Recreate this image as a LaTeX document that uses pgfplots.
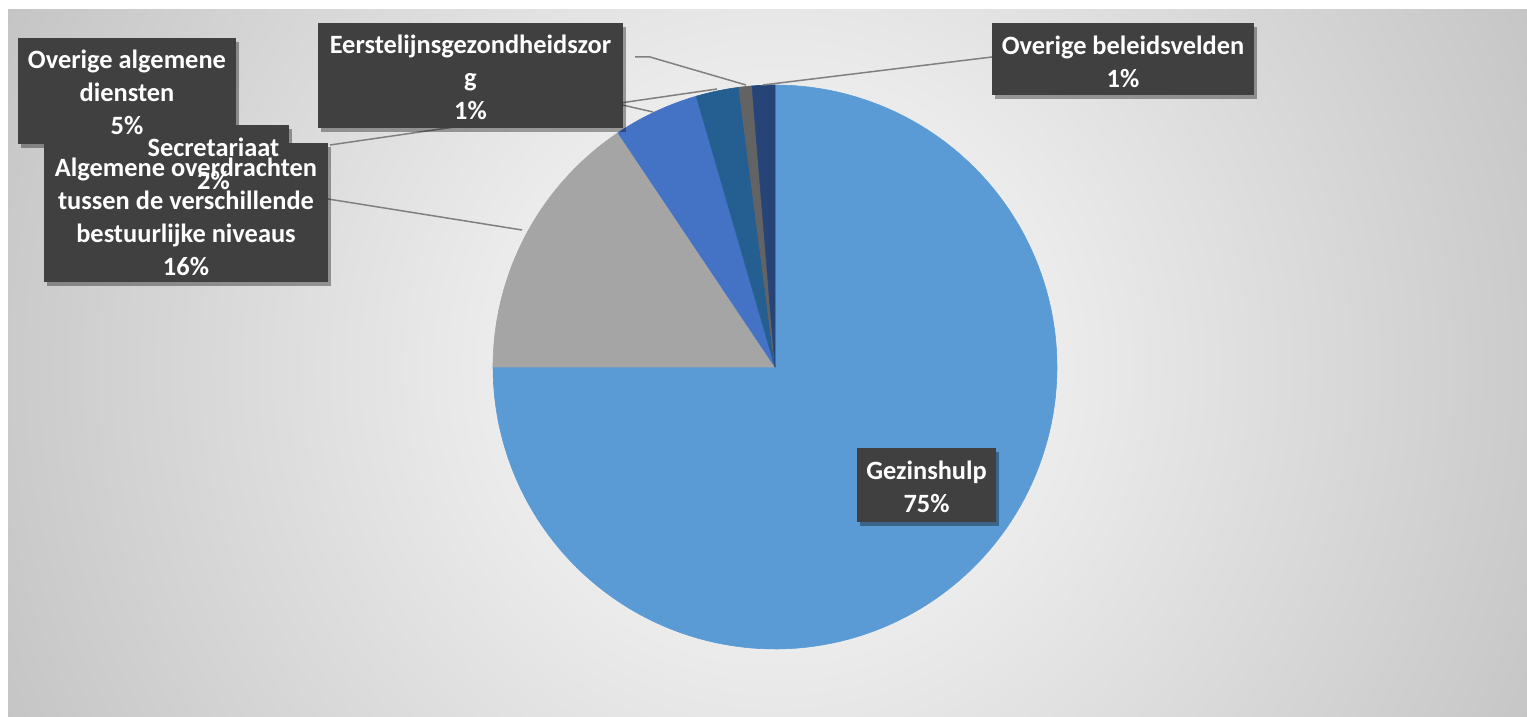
\documentclass[border=0pt]{standalone}
\usepackage{pgfplots}
\pgfplotsset{compat=1.18}
\usepackage{pgfplotstable}
\usepackage{fontspec}
\setmainfont{Carlito}
\usetikzlibrary{shadows}

\definecolor{s0}{HTML}{5B9BD5}
\definecolor{s1}{HTML}{A5A5A5}
\definecolor{s2}{HTML}{4472C4}
\definecolor{s3}{HTML}{255E91}
\definecolor{s4}{HTML}{636363}
\definecolor{s5}{HTML}{264478}
\definecolor{bggray}{HTML}{C4C4C4}
\definecolor{boxgray}{HTML}{404040}
\definecolor{leader}{HTML}{808080}

% share of each slice (percent), clockwise from 12 o'clock
\pgfplotstableread{
pct
75.0
15.6
4.9
2.45
0.75
1.3
}\piedata

\begin{document}
\begin{tikzpicture}[
  box/.style={fill=boxgray, draw=none, inner sep=0pt,
    drop shadow={shadow xshift=1.3pt, shadow yshift=-1.8pt, opacity=0.35, fill=black}},
  lbl/.style={text=white, font=\bfseries\fontsize{13.2}{16.5}\selectfont, align=center, inner sep=0pt}
]
% background
\fill[white] (0,0) rectangle (763.5pt,358.5pt);
\begin{scope}
  \clip (4pt,0pt) rectangle (763.5pt,353.5pt);
  \fill[bggray] (4pt,0pt) rectangle (763.5pt,353.5pt);
  \shade[inner color=white, outer color=bggray] (387.5pt,175pt) circle (430pt);
\end{scope}

\begin{axis}[
  at={(0,0)}, anchor=origin,
  width=763.5pt, height=358.5pt, scale only axis,
  xmin=0, xmax=1527, ymin=0, ymax=717,
  hide axis, clip=false,
]
\def\cum{0}
\pgfplotsforeachungrouped \i in {0,...,5}{%
  \pgfplotstablegetelem{\i}{pct}\of\piedata
  \let\p=\pgfplotsretval
  \pgfmathsetmacro\angA{90-3.6*\cum}%
  \pgfmathsetmacro\angB{90-3.6*(\cum+\p)}%
  \pgfmathsetmacro\cum{\cum+\p}%
  \edef\temp{\noexpand\addplot[fill=s\i, draw=s\i, line width=0.3pt, line join=round, domain=\angB:\angA, samples=150]
    ({775+282*cos(x)},{350+282*sin(x)}) -- (axis cs:775,350) -- cycle;}%
  \temp
}

% leader lines
\draw[leader, line width=0.75pt] (axis cs:992,660) -- (axis cs:763,632);
\draw[leader, line width=0.75pt] (axis cs:635,660) -- (axis cs:650,660) -- (axis cs:746,632);
\draw[leader, line width=0.75pt] (axis cs:330,572) -- (axis cs:717,628);
\draw[leader, line width=0.75pt] (axis cs:570,624) -- (axis cs:653,605);
\draw[leader, line width=0.75pt] (axis cs:328,518) -- (axis cs:522,487);

% label boxes
\node[box, minimum width=109pt, minimum height=53pt] at (axis cs:127,626) {};
\node[box, minimum width=75.5pt, minimum height=36.5pt] at (axis cs:213.5,555.5) {};
\node[box, minimum width=142pt, minimum height=69.5pt] at (axis cs:186,504.5) {};
\node[box, minimum width=152.5pt, minimum height=52.5pt] at (axis cs:470.5,641.5) {};
\node[box, minimum width=131pt, minimum height=36pt] at (axis cs:1123,658) {};
\node[box, minimum width=69.5pt, minimum height=37pt] at (axis cs:926.5,232) {};

% label texts
\node[lbl] at (axis cs:127,624.5) {Overige algemene\\diensten\\5\%};
\node[lbl] at (axis cs:213.5,553.5) {Secretariaat\\2\%};
\node[lbl] at (axis cs:186,500.5) {Algemene overdrachten\\tussen de verschillende\\bestuurlijke niveaus\\16\%};
\node[lbl] at (axis cs:470.5,639.5) {Eerstelijnsgezondheidszor\\g\\1\%};
\node[lbl] at (axis cs:1123,655.5) {Overige beleidsvelden\\1\%};
\node[lbl] at (axis cs:926.5,230.5) {Gezinshulp\\75\%};
\end{axis}
\end{tikzpicture}
\end{document}
